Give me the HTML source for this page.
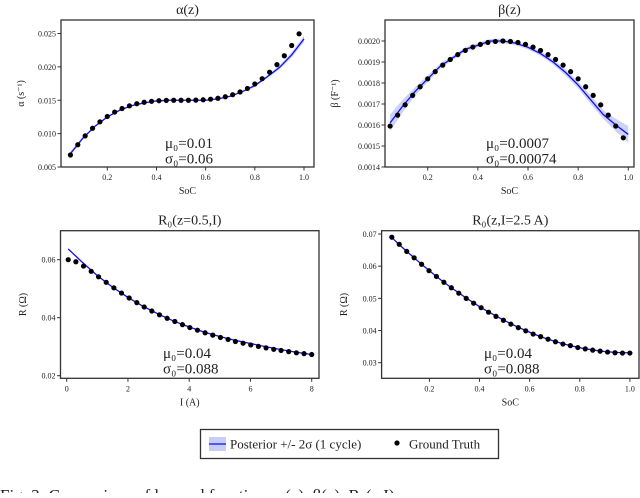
<!DOCTYPE html>
<html><head><meta charset="utf-8">
<style>
body{margin:0;background:#fff;width:640px;height:493px;overflow:hidden;font-family:"Liberation Serif",serif;}
svg text{font-family:"Liberation Serif","DejaVu Serif",serif;}
</style></head>
<body>
<svg id="fig" width="640" height="493" viewBox="0 0 640 493"></svg>
<script>
// ---------- data ----------
const alphaX=[0.05,0.08,0.11,0.14,0.17,0.20,0.23,0.26,0.29,0.32,0.35,0.38,0.41,0.44,0.47,0.50,0.53,0.56,0.59,0.62,0.65,0.68,0.71,0.74,0.77,0.80,0.83,0.86,0.89,0.92,0.95,0.98];
const alphaTruth=[0.00680,0.00833,0.00966,0.01080,0.01177,0.01257,0.01323,0.01376,0.01417,0.01448,0.01470,0.01484,0.01493,0.01498,0.01500,0.01500,0.01500,0.01502,0.01507,0.01516,0.01530,0.01552,0.01583,0.01624,0.01677,0.01743,0.01823,0.01920,0.02034,0.02167,0.02320,0.02495];
const curveX=[0.05,0.10,0.15,0.20,0.25,0.30,0.35,0.40,0.45,0.50,0.55,0.60,0.65,0.70,0.75,0.80,0.85,0.90,0.95,1.0];
const alphaMean=[0.0070,0.0093,0.0111,0.0125,0.0135,0.0142,0.0146,0.0149,0.0150,0.0150,0.0150,0.0150,0.0152,0.0156,0.0163,0.0172,0.0185,0.0199,0.0218,0.0242];
const alphaSd=[0.0003,0.0002,0.0001,0.0001,0.0001,0.0001,0.0001,0.0001,0.0001,0.0001,0.0001,0.0001,0.0001,0.0001,0.0001,0.0002,0.0002,0.0003,0.0004,0.0005];

const betaTruth=[0.001595,0.001647,0.001696,0.001741,0.001782,0.001820,0.001854,0.001885,0.001912,0.001935,0.001955,0.001971,0.001984,0.001993,0.001998,0.002000,0.001998,0.001993,0.001984,0.001971,0.001955,0.001935,0.001912,0.001885,0.001854,0.001820,0.001782,0.001741,0.001696,0.001647,0.001595,0.001539];
const betaMean=[0.00161,0.00169,0.00176,0.00182,0.00188,0.00192,0.00196,0.00198,0.00200,0.00200,0.00199,0.00197,0.00194,0.00190,0.00185,0.00179,0.00172,0.00165,0.00160,0.001555];
const betaSd=[0.00004,0.00003,0.00002,0.000015,0.000012,0.00001,0.00001,0.00001,0.00001,0.00001,0.00001,0.00001,0.00001,0.000012,0.000015,0.000015,0.00002,0.00002,0.00003,0.00004];

const r1X=[0.05,0.30,0.55,0.80,1.04,1.29,1.54,1.79,2.04,2.29,2.53,2.78,3.03,3.28,3.53,3.78,4.02,4.27,4.52,4.77,5.02,5.27,5.51,5.76,6.01,6.26,6.51,6.76,7.00,7.25,7.50,7.75,8.00];
const r1Truth=[0.0600,0.0593,0.0578,0.0560,0.0541,0.0522,0.0503,0.0485,0.0468,0.0452,0.0437,0.0423,0.0410,0.0398,0.0387,0.0376,0.0366,0.0357,0.0348,0.0340,0.0332,0.0325,0.0318,0.0312,0.0306,0.0301,0.0296,0.0291,0.0287,0.0283,0.0279,0.0276,0.0273];
const r1CurveX=[0.05,0.5,1,1.5,2,2.5,3,3.5,4,4.5,5,5.5,6,6.5,7,7.5,8];
const r1Mean=[0.0637,0.0592,0.0545,0.0505,0.0470,0.0439,0.0412,0.0388,0.0368,0.0350,0.0335,0.0322,0.0311,0.0300,0.0290,0.0281,0.0273];

const r2X=[0.05,0.0797,0.1094,0.1391,0.1688,0.1984,0.2281,0.2578,0.2875,0.3172,0.3469,0.3766,0.4063,0.4359,0.4656,0.4953,0.525,0.5547,0.5844,0.6141,0.6438,0.6734,0.7031,0.7328,0.7625,0.7922,0.8219,0.8516,0.8813,0.9109,0.9406,0.9703,1.0];
const r2Truth=[0.0690,0.0668,0.0646,0.0626,0.0606,0.0586,0.0568,0.0550,0.0533,0.0516,0.0500,0.0485,0.0471,0.0457,0.0444,0.0432,0.0420,0.0409,0.0399,0.0389,0.0381,0.0373,0.0365,0.0358,0.0353,0.0347,0.0343,0.0339,0.0336,0.0333,0.0331,0.0330,0.0330];
const r2Mean=[0.0689,0.0667,0.0646,0.0626,0.0606,0.0587,0.0568,0.0550,0.0533,0.0517,0.0501,0.0486,0.0471,0.0458,0.0445,0.0433,0.0421,0.0410,0.0400,0.0390,0.0381,0.0373,0.0366,0.0359,0.0353,0.0348,0.0343,0.0340,0.0336,0.0334,0.0332,0.0331,0.0331];

const socTicks=[0.2,0.4,0.6,0.8,1.0];
const socTickLabels=["0.2","0.4","0.6","0.8","1.0"];
const alphaTicks=[0.005,0.010,0.015,0.020,0.025];
const alphaTickLabels=["0.005","0.010","0.015","0.020","0.025"];
const betaTicks=[0.0014,0.0015,0.0016,0.0017,0.0018,0.0019,0.0020];
const betaTickLabels=["0.0014","0.0015","0.0016","0.0017","0.0018","0.0019","0.0020"];
const iTicks=[0,2,4,6,8];
const iTickLabels=["0","2","4","6","8"];
const r1Ticks=[0.02,0.04,0.06];
const r1TickLabels=["0.02","0.04","0.06"];
const r2Ticks=[0.03,0.04,0.05,0.06,0.07];
const r2TickLabels=["0.03","0.04","0.05","0.06","0.07"];

// ---------- drawing ----------
const NS="http://www.w3.org/2000/svg";
const svg=document.getElementById('fig');
function mk(tag,attrs,parent){const e=document.createElementNS(NS,tag);for(const k in attrs)e.setAttribute(k,attrs[k]);(parent||svg).appendChild(e);return e;}
function txt(s,x,y,size,anchor,parent,rot){const t=mk('text',{x:x,y:y,'font-size':size,'text-anchor':anchor||'middle',fill:'#222'},parent);if(rot)t.setAttribute('transform','rotate(-90 '+x+' '+y+')');t.textContent=s;return t;}

function panel(o){
  const g=mk('g',{});
  
  
  const sx=v=>o.px0+(v-o.vx0)*(o.px1-o.px0)/(o.vx1-o.vx0);
  const sy=v=>o.py0+(v-o.vy0)*(o.py1-o.py0)/(o.vy1-o.vy0);
  if(o.sd){
    let up=o.cx.map((x,i)=>sx(x)+','+sy(o.cy[i]+o.sd[i]));
    let lo=o.cx.map((x,i)=>sx(x)+','+sy(o.cy[i]-o.sd[i])).reverse();
    const b=mk('polygon',{points:up.concat(lo).join(' '),fill:'#c8cdf7',opacity:0.9},g);
    
    
  }
  const l=mk('polyline',{points:o.cx.map((x,i)=>sx(x)+','+sy(o.cy[i])).join(' '),fill:'none',stroke:'#1010f0','stroke-width':1.3},g);
  
  
  o.px.forEach((x,i)=>{
    const c=mk('circle',{cx:sx(x),cy:sy(o.py[i]),r:2.6,fill:'#000'},g);
    
    
  });
  const f=mk('rect',{x:o.bx0,y:o.by0,width:o.bx1-o.bx0,height:o.by1-o.by0,fill:'none',stroke:'#333','stroke-width':1.3},g);
  
  
  o.xt.forEach((v,i)=>{const x=sx(v);mk('line',{x1:x,x2:x,y1:o.by1,y2:o.by1+3.5,stroke:'#333'},g);
    const t=txt(o.xtl[i],x,o.by1+13,8,'middle',g);});
  o.yt.forEach((v,i)=>{const y=sy(v);mk('line',{x1:o.bx0,x2:o.bx0-3.5,y1:y,y2:y,stroke:'#333'},g);
    const t=txt(o.ytl[i],o.bx0-5,y+3,8,'end',g);});
  const tt=txt(o.title,(o.bx0+o.bx1)/2,o.by0-6,14,'middle',g);
  
  const xl=txt(o.xlabel,(o.bx0+o.bx1)/2,o.by1+27,10,'middle',g);
  
  const yl=txt(o.ylabel,o.ylx,(o.by0+o.by1)/2,10,'middle',g,true);
  
  const m=txt(o.mu,o.ax,o.ay,15,o.anchor,g);
  const s=txt(o.sig,o.ax,o.ay+15.5,15,o.anchor,g);
}

panel({name:'alpha-panel',bx0:61,bx1:314,by0:20,by1:167,
  px0:107.3,px1:304,vx0:0.2,vx1:1.0,py0:167,py1:33.5,vy0:0.005,vy1:0.025,
  px:alphaX,py:alphaTruth,cx:curveX,cy:alphaMean,sd:alphaSd,
  xt:socTicks,xtl:socTickLabels,yt:alphaTicks,ytl:alphaTickLabels,
  title:'α(z)',xlabel:'SoC',ylabel:'α (s⁻¹)',ylx:24,mu:'μ₀=0.01',sig:'σ₀=0.06',ax:189,ay:148,anchor:'middle'});
panel({name:'beta-panel',bx0:385,bx1:634,by0:20,by1:167,
  px0:427.7,px1:628.3,vx0:0.2,vx1:1.0,py0:167,py1:41,vy0:0.0014,vy1:0.0020,
  px:alphaX,py:betaTruth,cx:curveX,cy:betaMean,sd:betaSd,
  xt:socTicks,xtl:socTickLabels,yt:betaTicks,ytl:betaTickLabels,
  title:'β(z)',xlabel:'SoC',ylabel:'β (F⁻¹)',ylx:338,mu:'μ₀=0.0007',sig:'σ₀=0.00074',ax:486,ay:148,anchor:'start'});
panel({name:'r0-current-panel',bx0:60.5,bx1:319,by0:230.7,by1:378.3,
  px0:66.7,px1:311.7,vx0:0,vx1:8,py0:375.7,py1:259.7,vy0:0.02,vy1:0.06,
  px:r1X,py:r1Truth,cx:r1CurveX,cy:r1Mean,sd:null,
  xt:iTicks,xtl:iTickLabels,yt:r1Ticks,ytl:r1TickLabels,
  title:'R₀(z=0.5,I)',xlabel:'I (A)',ylabel:'R (Ω)',ylx:26,mu:'μ₀=0.04',sig:'σ₀=0.088',ax:163,ay:358,anchor:'start'});
panel({name:'r0-soc-panel',bx0:381.6,bx1:639,by0:230.7,by1:378.3,
  px0:429.4,px1:629.9,vx0:0.2,vx1:1.0,py0:362.7,py1:234,vy0:0.03,vy1:0.07,
  px:r2X,py:r2Truth,cx:r2X,cy:r2Mean,sd:null,
  xt:socTicks,xtl:socTickLabels,yt:r2Ticks,ytl:r2TickLabels,
  title:'R₀(z,I=2.5 A)',xlabel:'SoC',ylabel:'R (Ω)',ylx:347,mu:'μ₀=0.04',sig:'σ₀=0.088',ax:484,ay:358,anchor:'start'});

const lg=mk('g',{});


mk('rect',{x:200.5,y:429.5,width:298,height:29,fill:'#fff',stroke:'#333','stroke-width':1.3},lg);
const sw=mk('rect',{x:209,y:437,width:17,height:14,fill:'#c8cdf7'},lg);


mk('line',{x1:209,x2:226,y1:444,y2:444,stroke:'#1010f0','stroke-width':1.3},lg);
const l1=txt('Posterior +/- 2σ (1 cycle)',230,448.5,13,'start',lg);

const ld=mk('circle',{cx:397,cy:443,r:2.6,fill:'#000'},lg);


const l2=txt('Ground Truth',409,448.5,13,'start',lg);


const cap=txt('Fig. 3: Comparison of learned functions α(z), β(z), R₀(z,I)',0,501,17,'start');


</script>
</body></html>
